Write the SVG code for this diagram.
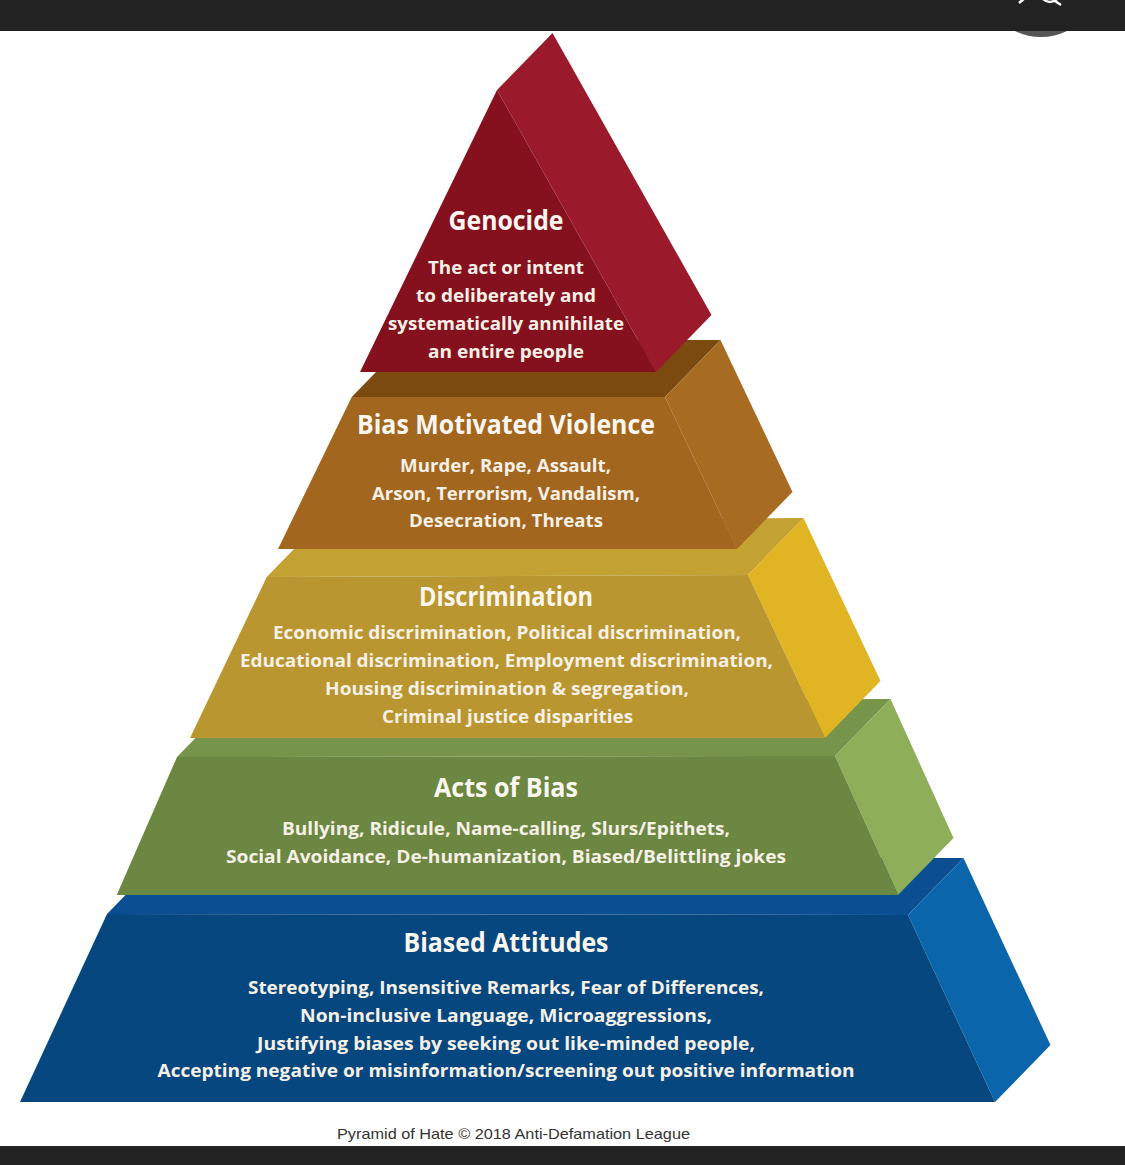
<svg xmlns="http://www.w3.org/2000/svg" width="1125" height="1165" viewBox="0 0 1125 1165">
  <style>
    .title { font-family: "Open Sans", "Liberation Sans", sans-serif; font-weight: 700; font-size: 26px; fill: #fbf7f0; text-anchor: middle; }
    .desc { font-family: "Open Sans", "Liberation Sans", sans-serif; font-weight: 700; font-size: 18px; fill: #f6f0e6; text-anchor: middle; }
    .cap { font-family: "Liberation Sans", "Open Sans", sans-serif; font-size: 15px; fill: #333333; text-anchor: middle; }
  </style>
  <rect x="0" y="0" width="1125" height="1165" fill="#ffffff"/>

  <!-- top bar -->
  <g id="topbar">
    <rect x="0" y="0" width="1125" height="31" fill="#222222"/>
    <path d="M1015 31 A59 59 0 0 0 1067 31 Z" fill="#555555"/>
    <path d="M1019 3 L1025 -2" stroke="#ffffff" stroke-width="2.5" fill="none"/>
    <path d="M1043 -1 Q1050 5 1057 -1 M1055 1 L1061 5" stroke="#ffffff" stroke-width="2.5" fill="none"/>
  </g>

  <!-- Biased Attitudes (blue) -->
  <g id="tier-biased-attitudes">
    <polygon points="107,914 908,915 963.5,858 162.5,857" fill="#0b4f92"/>
    <polygon points="908,915 963.5,858 1050.5,1045 995,1102" fill="#0b65ab"/>
    <polygon points="107,914 908,915 995,1102 20,1102" fill="#07477f"/>
    <text class="title" x="506" y="952" textLength="205" lengthAdjust="spacingAndGlyphs">Biased Attitudes</text>
    <text class="desc" x="506" y="994" textLength="516" lengthAdjust="spacingAndGlyphs">Stereotyping, Insensitive Remarks, Fear of Differences,</text>
    <text class="desc" x="506" y="1022" textLength="412" lengthAdjust="spacingAndGlyphs">Non-inclusive Language, Microaggressions,</text>
    <text class="desc" x="506" y="1050" textLength="498" lengthAdjust="spacingAndGlyphs">Justifying biases by seeking out like-minded people,</text>
    <text class="desc" x="506" y="1077" textLength="697" lengthAdjust="spacingAndGlyphs">Accepting negative or misinformation/screening out positive information</text>
  </g>

  <!-- Acts of Bias (green) -->
  <g id="tier-acts-of-bias">
    <polygon points="177,757 835,756 890.5,699 232.5,700" fill="#76954a"/>
    <polygon points="835,756 890.5,699 953.5,838 898,895" fill="#8eae59"/>
    <polygon points="177,757 835,756 898,895 116.7,895" fill="#6b8741"/>
    <text class="title" x="506" y="797" textLength="144" lengthAdjust="spacingAndGlyphs">Acts of Bias</text>
    <text class="desc" x="506" y="835" textLength="448" lengthAdjust="spacingAndGlyphs">Bullying, Ridicule, Name-calling, Slurs/Epithets,</text>
    <text class="desc" x="506" y="863" textLength="560" lengthAdjust="spacingAndGlyphs">Social Avoidance, De-humanization, Biased/Belittling jokes</text>
  </g>

  <!-- Discrimination (yellow) -->
  <g id="tier-discrimination">
    <polygon points="266.7,577 748,575 803.5,518 322.2,520" fill="#c4a133"/>
    <polygon points="748,575 803.5,518 880.5,681 825,738" fill="#e1b423"/>
    <polygon points="266.7,577 748,575 825,738 190,738" fill="#b9962f"/>
    <text class="title" x="506" y="606" textLength="174" lengthAdjust="spacingAndGlyphs">Discrimination</text>
    <text class="desc" x="507" y="639" textLength="468" lengthAdjust="spacingAndGlyphs">Economic discrimination, Political discrimination,</text>
    <text class="desc" x="506.5" y="667" textLength="533" lengthAdjust="spacingAndGlyphs">Educational discrimination, Employment discrimination,</text>
    <text class="desc" x="507" y="695" textLength="364" lengthAdjust="spacingAndGlyphs">Housing discrimination &amp; segregation,</text>
    <text class="desc" x="507.5" y="723" textLength="251" lengthAdjust="spacingAndGlyphs">Criminal justice disparities</text>
  </g>

  <!-- Bias Motivated Violence (brown) -->
  <g id="tier-bias-motivated-violence">
    <polygon points="351.7,397 665,397 720.5,340 407.2,340" fill="#7a4a10"/>
    <polygon points="665,397 720.5,340 792.5,492 737,549" fill="#a86b22"/>
    <polygon points="351.7,397 665,397 737,549 278,549" fill="#a3661f"/>
    <text class="title" x="506" y="434" textLength="298" lengthAdjust="spacingAndGlyphs">Bias Motivated Violence</text>
    <text class="desc" x="505.5" y="472" textLength="211" lengthAdjust="spacingAndGlyphs">Murder, Rape, Assault,</text>
    <text class="desc" x="506" y="500" textLength="268" lengthAdjust="spacingAndGlyphs">Arson, Terrorism, Vandalism,</text>
    <text class="desc" x="506" y="527" textLength="194" lengthAdjust="spacingAndGlyphs">Desecration, Threats</text>
  </g>

  <!-- Genocide (red) -->
  <g id="tier-genocide">
    <polygon points="497,90 552.5,33 711.5,315 656,372" fill="#9a1a2b"/>
    <polygon points="497,90 656,372 360,372" fill="#85111f"/>
    <text class="title" x="506" y="230" textLength="115" lengthAdjust="spacingAndGlyphs">Genocide</text>
    <text class="desc" x="506" y="274" textLength="156" lengthAdjust="spacingAndGlyphs">The act or intent</text>
    <text class="desc" x="506" y="302" textLength="180" lengthAdjust="spacingAndGlyphs">to deliberately and</text>
    <text class="desc" x="506" y="330" textLength="236" lengthAdjust="spacingAndGlyphs">systematically annihilate</text>
    <text class="desc" x="506" y="358" textLength="156" lengthAdjust="spacingAndGlyphs">an entire people</text>
  </g>

  <!-- caption -->
  <g id="caption">
    <text class="cap" x="513.5" y="1139" textLength="353" lengthAdjust="spacingAndGlyphs">Pyramid of Hate © 2018 Anti-Defamation League</text>
  </g>

  <!-- bottom bar -->
  <rect id="bottombar" x="0" y="1146" width="1125" height="19" fill="#222222"/>
</svg>
